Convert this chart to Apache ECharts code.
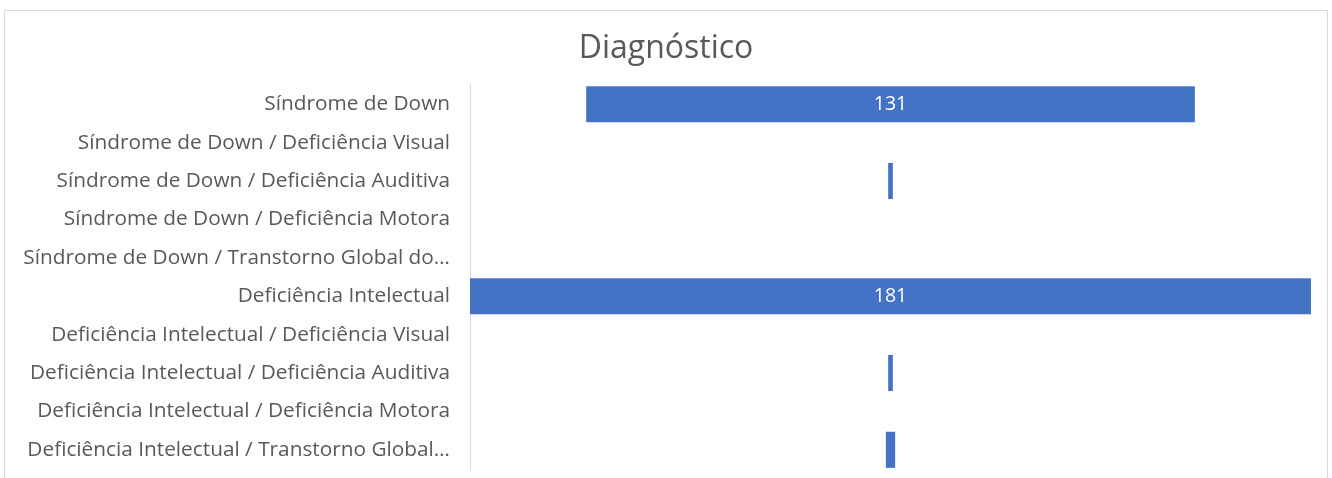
<!DOCTYPE html>
<html>
<head>
<meta charset="utf-8">
<script src="https://cdn.jsdelivr.net/npm/echarts@6/dist/echarts.min.js"></script>
<style>
  html, body { margin: 0; padding: 0; background: #fff; }
  #chart { width: 1332px; height: 478px; }
</style>
</head>
<body>
<div id="chart"></div>
<script>
// categories, top to bottom
var categorias = [
    'Síndrome de Down',
    'Síndrome de Down / Deficiência Visual',
    'Síndrome de Down / Deficiência Auditiva',
    'Síndrome de Down / Deficiência Motora',
    'Síndrome de Down / Transtorno Global do…',
    'Deficiência Intelectual',
    'Deficiência Intelectual / Deficiência Visual',
    'Deficiência Intelectual / Deficiência Auditiva',
    'Deficiência Intelectual / Deficiência Motora',
    'Deficiência Intelectual / Transtorno Global…'
];
var valores = [131, 0, 1, 0, 0, 181, 0, 1, 0, 2];
var maximo = 181;

// offset so each bar sits centered (funnel style)
var espaco = valores.map(function (v) { return (maximo - v) / 2; });

var chartDom = document.getElementById('chart');
var myChart = echarts.init(chartDom);

myChart.setOption({
    animation: false,
    textStyle: { fontFamily: 'Open Sans, sans-serif' },
    title: {
        text: 'Diagnóstico',
        left: 'center',
        top: 28,
        textStyle: { fontSize: 32, fontWeight: 'normal', color: '#595959', fontFamily: 'Open Sans, sans-serif' }
    },
    graphic: [{
        type: 'rect',
        shape: { x: 4.5, y: 10.5, width: 1323, height: 480 },
        style: { fill: 'none', stroke: '#d9d9d9', lineWidth: 1 },
        silent: true
    }],
    grid: { left: 470, right: 21, top: 85, bottom: 9 },
    xAxis: {
        type: 'value',
        min: 0,
        max: maximo,
        show: false
    },
    yAxis: {
        type: 'category',
        data: categorias,
        inverse: true,
        axisLine: { show: true, lineStyle: { color: '#d9d9d9', width: 1 } },
        axisTick: { show: false },
        axisLabel: { color: '#595959', fontSize: 20.8, margin: 20 }
    },
    series: [
        {
            type: 'bar',
            stack: 'funil',
            data: espaco,
            itemStyle: { color: 'transparent' },
            silent: true,
            barWidth: '94%'
        },
        {
            type: 'bar',
            stack: 'funil',
            data: valores,
            barWidth: '94%',
            itemStyle: { color: '#4472C4' },
            label: {
                show: true,
                position: 'inside',
                color: '#ffffff',
                fontSize: 19.5,
                formatter: function (p) { return p.value >= 10 ? p.value : ''; }
            }
        }
    ]
});
</script>
</body>
</html>
